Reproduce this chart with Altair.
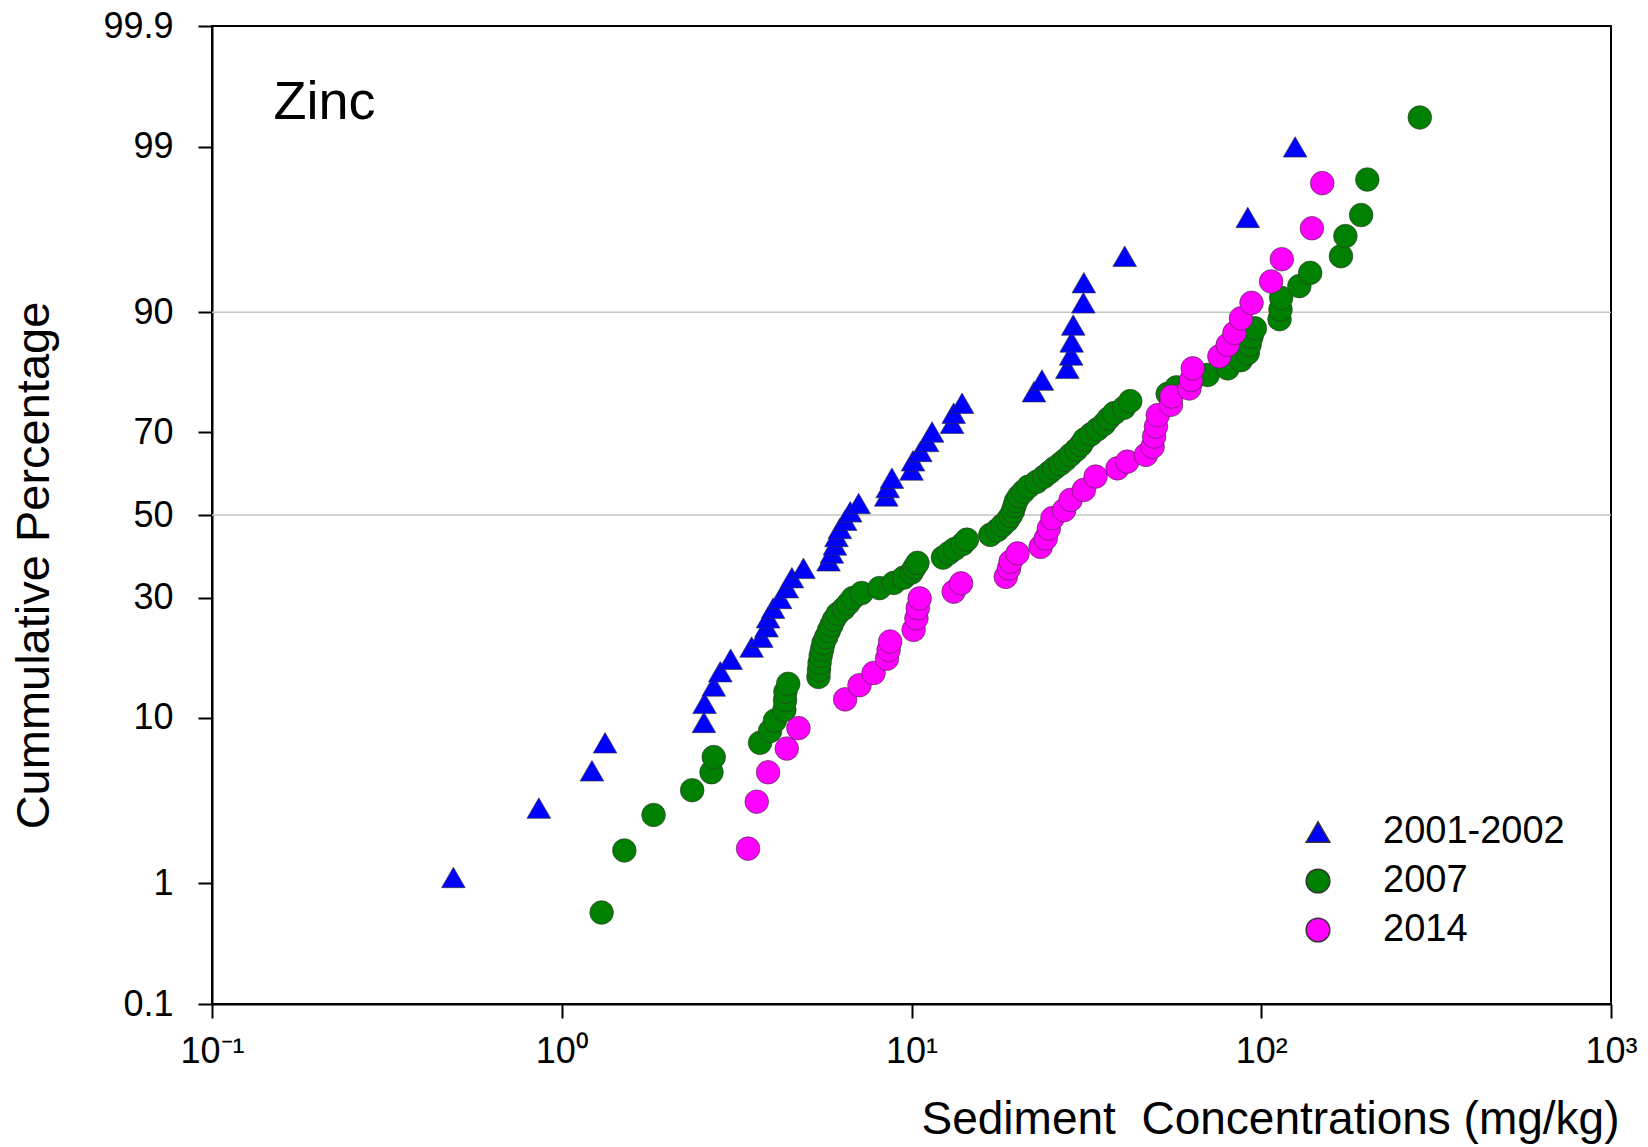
import altair as alt
import pandas as pd
from statistics import NormalDist

# ---------------- data ----------------
series_names = ["2001-2002", "2007", "2014"]
series_colors = ["#0000ff", "#008000", "#ff00ff"]
series_shapes = ["triangle-up", "circle", "circle"]

blue_conc = [0.49, 0.86, 1.22, 1.33, 2.55, 2.56, 2.72, 2.84, 3.04, 3.49, 3.72, 3.85,
             3.89, 4.02, 4.21, 4.40, 4.55, 4.91, 5.79, 5.92, 6.04, 6.10, 6.24, 6.46,
             6.68, 7.06, 8.47, 8.55, 8.79, 10.0, 10.1, 10.6, 11.08, 11.45, 13.06, 13.2,
             13.95, 22.4, 23.6, 27.9, 28.6, 28.7, 29.0, 31.0, 31.1, 40.7, 91.5, 125]
blue_pct = [1.1, 3.2, 5.3, 7.5, 9.5, 11.7, 14.0, 16.1, 18.1, 20.2, 22.0, 24.0,
            25.8, 27.8, 29.9, 32.3, 34.6, 36.8, 38.6, 40.5, 42.5, 44.6, 46.6, 48.7,
            50.8, 52.9, 54.8, 56.9, 59.2, 61.2, 63.4, 65.6, 67.9, 70.0, 71.9, 74.0,
            76.0, 78.2, 80.3, 82.3, 84.4, 86.3, 88.5, 91.0, 92.9, 94.9, 97.0, 99.0]

green_conc = [1.30, 1.51, 1.83, 2.36, 2.68, 2.72, 3.69, 3.94, 4.07, 4.33,
              4.35, 4.36, 4.44,
              5.42, 5.44, 5.46, 5.50, 5.55, 5.60, 5.70, 5.80, 5.90, 6.00,
              6.15, 6.40, 6.60, 6.80, 7.20, 8.10, 8.90, 9.50, 10.0, 10.2,
              10.4, 12.3, 12.8, 13.3, 14.0, 14.4, 16.8, 17.6, 18.2, 18.8,
              19.2, 19.5, 19.7, 19.9, 20.3, 20.9, 21.6, 22.8, 23.9, 24.8,
              25.6, 26.6, 27.5, 28.5, 29.6, 30.5, 31.2, 32.6, 34.0, 35.5,
              36.6, 38.0, 40.5, 42.2, 54.0, 57.2, 63.0, 70.3, 80.2, 87.5,
              91.5, 92.6, 93.8, 95.9, 112.8, 113.5, 114.0, 128.5, 138, 169,
              174, 193, 201, 284]
green_pct = [0.6, 1.7, 2.9, 4.1, 5.2, 6.3, 7.5, 8.6, 9.7, 10.9,
             12.1, 13.2, 14.3,
             15.3, 16.4, 17.5, 18.7, 19.8, 20.9, 22.0, 23.2, 24.3, 25.4,
             26.6, 27.7, 28.8, 30.0, 31.1, 32.2, 33.4, 34.6, 35.8, 37.0,
             38.1, 39.4, 40.5, 41.5, 42.7, 43.8, 45.0, 46.2, 47.4, 48.6,
             49.8, 51.0, 52.3, 53.5, 54.7, 55.9, 57.1, 58.3, 59.5, 60.6,
             61.6, 62.6, 63.6, 64.8, 66.0, 67.1, 68.3, 69.5, 70.6, 71.7,
             72.9, 74.0, 75.1, 76.4, 77.8, 79.0, 80.0, 81.2, 82.3, 83.6,
             84.7, 85.9, 87.0, 88.1, 89.2, 90.3, 91.5, 92.6, 93.7, 94.9,
             96.1, 97.1, 98.3, 99.4]

pink_conc = [3.41, 3.61, 3.89, 4.40, 4.75, 6.46, 7.10, 7.79, 8.51, 8.60,
             8.69, 10.14, 10.33, 10.42, 10.55, 13.2, 13.86, 18.6, 19.0, 19.2,
             20.1, 23.4, 24.2, 24.7, 25.3, 27.3, 28.5, 31.1, 33.6, 38.8,
             41.4, 46.8, 48.9, 49.4, 50.0, 50.6, 55.2, 55.4, 62.3, 63.0,
             63.7, 75.9, 80.2, 83.8, 87.5, 93.8, 106.7, 114.5, 139.6, 149.4]
pink_pct = [1.75, 3.5, 5.2, 7.0, 8.9, 12.2, 14.1, 15.9, 18.2, 19.7,
            21.2, 23.4, 25.7, 27.8, 29.9, 31.4, 33.3, 34.8, 36.8, 38.4,
            40.4, 42.0, 44.1, 46.6, 49.2, 51.2, 53.8, 56.3, 59.6, 61.6,
            63.2, 64.8, 66.7, 69.0, 71.2, 73.6, 75.7, 77.3, 78.8, 80.3,
            82.3, 84.2, 85.9, 87.5, 89.3, 91.0, 93.0, 94.7, 96.5, 98.2]

y_ticks = [0.1, 1, 10, 30, 50, 70, 90, 99, 99.9]
x_ticks = [0.1, 1, 10, 100, 1000]
grid_pct = [50, 90]

panel_label = "Zinc"
panel_label_conc = 0.15
panel_label_pct = 99.54

# ---------------- tables ----------------
rows = []
for name, cs, ps in [(series_names[0], blue_conc, blue_pct),
                     (series_names[1], green_conc, green_pct),
                     (series_names[2], pink_conc, pink_pct)]:
    for c, p in zip(cs, ps):
        rows.append({"series": name, "conc": c, "pct": p})
df = pd.DataFrame(rows)

nd = NormalDist()
y_tick_z = [nd.inv_cdf(p / 100.0) for p in y_ticks]
y_dom = [y_tick_z[0], y_tick_z[-1]]

FONT = "Liberation Sans"
PROBIT = "quantileNormal(datum.pct / 100)"

x_label_expr = ("datum.value < 0.5 ? '10\u207b\u00b9' : datum.value < 5 ? '10\u2070' : "
                "datum.value < 50 ? '10\u00b9' : datum.value < 500 ? '10\u00b2' : '10\u00b3'")

x_enc = alt.X(
    "conc:Q",
    scale=alt.Scale(type="log", domain=[0.1, 1000], nice=False),
    axis=alt.Axis(
        values=x_ticks, labelExpr=x_label_expr, grid=False, labelFlush=False,
        labelOverlap=False, labelFontSize=36, tickSize=14, labelPadding=16,
        title="Sediment\u00a0 Concentrations (mg/kg)", titleFontSize=46,
        titleX=1407, titleY=115, titleAlign="right", titleBaseline="middle",
    ),
)
y_enc = alt.Y(
    "z:Q",
    scale=alt.Scale(domain=y_dom, nice=False, zero=False),
    axis=alt.Axis(
        values=y_tick_z,
        labelExpr="format(cumulativeNormal(datum.value) * 100, '.1~f')",
        grid=False, labelOverlap=False, labelFontSize=36, tickSize=14, labelPadding=25,
        title="Cummulative Percentage", titleFontSize=47,
        titleX=-178, titleY=539, titleAlign="center", titleBaseline="middle", titleAngle=-90,
    ),
)

leg = alt.Legend(
    title=None, orient="none", legendX=1087, legendY=787, padding=0,
    labelFontSize=38, labelFont=FONT, labelColor="black", labelLimit=0,
    symbolSize=560, labelOffset=46, rowPadding=11,
)

grid = (
    alt.Chart(pd.DataFrame({"pct": grid_pct}))
    .transform_calculate(z=PROBIT)
    .mark_rule(color="#c4c4c4", strokeWidth=1.5)
    .encode(y=y_enc)
)

points = (
    alt.Chart(df)
    .transform_calculate(z=PROBIT)
    .mark_point(filled=True, opacity=1, size=560, stroke="#333333", strokeWidth=0.6)
    .encode(
        x=x_enc,
        y=y_enc,
        color=alt.Color("series:N", scale=alt.Scale(domain=series_names, range=series_colors), legend=leg),
        shape=alt.Shape("series:N", scale=alt.Scale(domain=series_names, range=series_shapes), legend=leg),
    )
)

label = (
    alt.Chart(pd.DataFrame({"conc": [panel_label_conc], "pct": [panel_label_pct], "text": [panel_label]}))
    .transform_calculate(z=PROBIT)
    .mark_text(align="left", baseline="middle", fontSize=54, font=FONT, color="black")
    .encode(x=x_enc, y=y_enc, text="text:N")
)

chart = (
    alt.layer(grid, points, label)
    .properties(
        width=1399, height=978,
        autosize=alt.AutoSizeParams(type="none"),
        padding={"left": 212, "top": 26, "right": 37, "bottom": 143},
        background="white",
    )
    .configure_axis(
        labelFont=FONT, titleFont=FONT, labelColor="black", titleColor="black",
        domainColor="black", tickColor="black", domainWidth=2, tickWidth=2,
        titleFontWeight="normal",
    )
    .configure_view(stroke="black", strokeWidth=2)
)

chart.save("out.html", embed_options={"renderer": "svg", "actions": False})
